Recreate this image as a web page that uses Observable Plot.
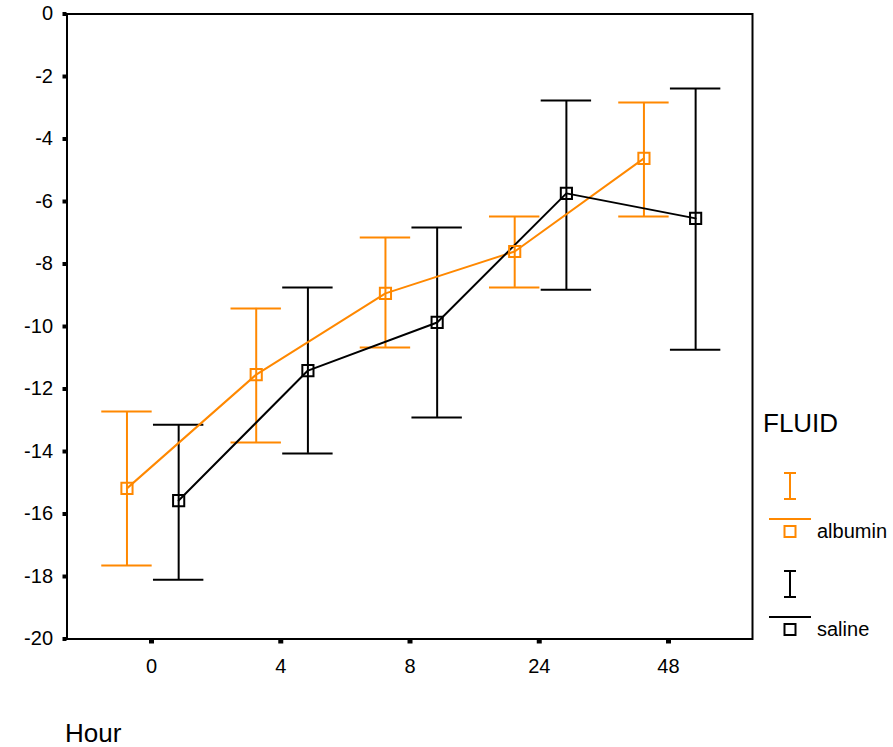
<!DOCTYPE html>
<html>
<head>
<meta charset="utf-8">
<script src="https://cdn.jsdelivr.net/npm/d3@7"></script>
<script src="https://cdn.jsdelivr.net/npm/@observablehq/plot@0.6"></script>
<style>
  body { margin: 0; background: #fff; }
  #chart { position: relative; width: 893px; height: 747px; font-family: "Liberation Sans", Arial, sans-serif; }
  #chart svg { position: absolute; left: 0; top: 0; }
</style>
</head>
<body>
<div id="chart"></div>
<script>
// ---- data ----
const hours = ["0", "4", "8", "24", "48"];
const fluids = ["albumin", "saline"];
const albuminMean  = [-15.18, -11.54, -8.94, -7.60, -4.62];
const albuminLower = [-17.65, -13.71, -10.67, -8.75, -6.48];
const albuminUpper = [-12.72, -9.42, -7.15, -6.48, -2.83];
const salineMean   = [-15.57, -11.41, -9.87, -5.74, -6.54];
const salineLower  = [-18.10, -14.06, -12.91, -8.82, -10.74];
const salineUpper  = [-13.14, -8.75, -6.83, -2.77, -2.38];
const yTicks = [-20, -18, -16, -14, -12, -10, -8, -6, -4, -2, 0];
const xLabel = "Hour";
const legendTitle = "FLUID";

// ---- styling ----
const colors = {albumin: "#ff8800", saline: "#000000"};
const dodge = {albumin: -0.19, saline: 0.21};
const capHalf = 0.195;

const series = {
  albumin: {mean: albuminMean, lo: albuminLower, hi: albuminUpper},
  saline: {mean: salineMean, lo: salineLower, hi: salineUpper}
};
const rows = [];
for (const f of fluids) {
  hours.forEach((h, i) => {
    rows.push({fluid: f, hour: h, x: i + dodge[f], mean: series[f].mean[i], lo: series[f].lo[i], hi: series[f].hi[i]});
  });
}

const W = 893, H = 747;
const plot = Plot.plot({
  width: W,
  height: H,
  marginLeft: 66.5,
  marginRight: 141,
  marginTop: 13.5,
  marginBottom: 108.5,
  style: {fontFamily: "'Liberation Sans', Arial, sans-serif", fontSize: "20px", background: "white"},
  x: {type: "linear", domain: [-0.654, 4.65]},
  y: {domain: [-20, 0]},
  color: {domain: fluids, range: fluids.map(f => colors[f])},
  marks: [
    Plot.axisY({ticks: yTicks, tickFormat: d => String(d), tickSize: 4, tickPadding: 10, strokeWidth: 4, label: null, fontSize: 20}),
    Plot.axisX({ticks: hours.map((h, i) => i), tickFormat: i => hours[i], tickSize: 5, tickPadding: 15, strokeWidth: 5, label: null, fontSize: 20}),
    Plot.ruleX(rows, {x: "x", y1: "lo", y2: "hi", stroke: "fluid", strokeWidth: 2}),
    Plot.ruleY(rows, {y: "lo", x1: d => d.x - capHalf, x2: d => d.x + capHalf, stroke: "fluid", strokeWidth: 2}),
    Plot.ruleY(rows, {y: "hi", x1: d => d.x - capHalf, x2: d => d.x + capHalf, stroke: "fluid", strokeWidth: 2}),
    Plot.line(rows, {x: "x", y: "mean", z: "fluid", stroke: "fluid", strokeWidth: 2}),
    Plot.dot(rows, {x: "x", y: "mean", symbol: "square", r: 6.3, fill: "none", stroke: "fluid", strokeWidth: 2}),
    Plot.frame({strokeWidth: 2, stroke: "black"})
  ]
});
const chart = document.getElementById("chart");
chart.appendChild(plot);

// ---- legend and axis title overlay ----
const svg = d3.select(chart).append("svg").attr("width", W).attr("height", H)
  .style("font-family", "'Liberation Sans', Arial, sans-serif").style("pointer-events", "none");
svg.append("text").attr("x", 65).attr("y", 742).attr("font-size", 26).text(xLabel);
svg.append("text").attr("x", 763).attr("y", 432).attr("font-size", 26).text(legendTitle);
fluids.forEach((f, k) => {
  const oy = k * 98;
  const c = colors[f];
  const g = svg.append("g").attr("stroke", c).attr("stroke-width", 2).attr("fill", "none");
  g.append("line").attr("x1", 790).attr("x2", 790).attr("y1", 473 + oy).attr("y2", 499 + oy);
  g.append("line").attr("x1", 784).attr("x2", 796).attr("y1", 473 + oy).attr("y2", 473 + oy);
  g.append("line").attr("x1", 784).attr("x2", 796).attr("y1", 499 + oy).attr("y2", 499 + oy);
  g.append("line").attr("x1", 769).attr("x2", 811).attr("y1", 519 + oy).attr("y2", 519 + oy);
  g.append("rect").attr("x", 784.5).attr("y", 526 + oy).attr("width", 11).attr("height", 11);
  svg.append("text").attr("x", 817).attr("y", 538 + oy).attr("font-size", 20).attr("fill", "black").text(f);
});
</script>
</body>
</html>
